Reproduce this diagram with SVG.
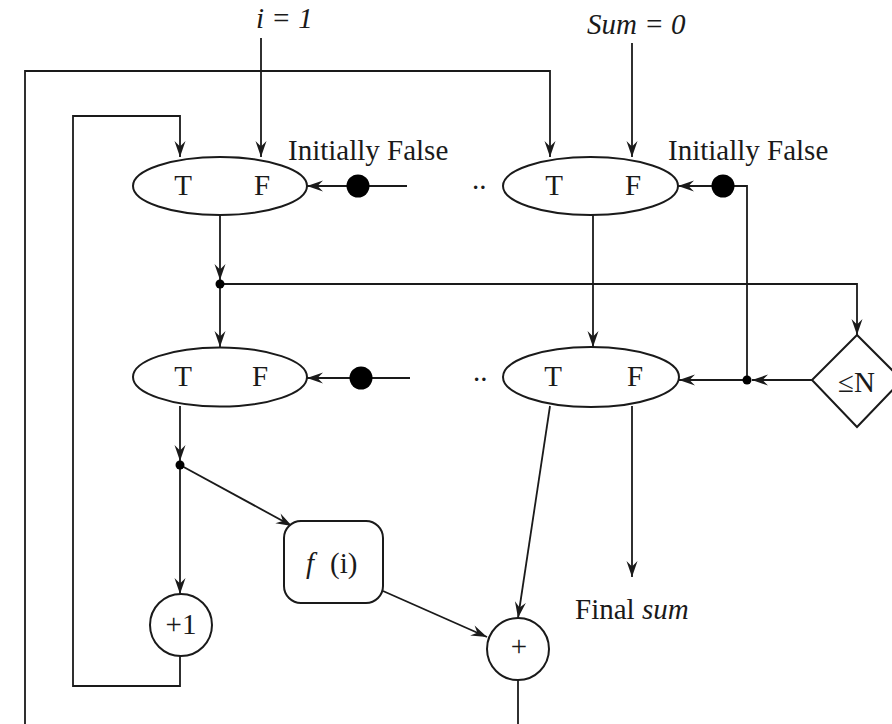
<svg xmlns="http://www.w3.org/2000/svg" width="892" height="724" viewBox="0 0 892 724">
<style>
.ln{fill:none;stroke:#1a1a1a;stroke-width:1.8}
.ar{marker-end:url(#ah)}
.shape{fill:#fff;stroke:#1a1a1a;stroke-width:2}
.t{font-family:"Liberation Serif","Times New Roman",serif;font-size:29px;fill:#1a1a1a}
.c{text-anchor:middle}
.it{font-style:italic}
.dot{fill:#000}
</style>
<defs>
<marker id="ah" markerUnits="userSpaceOnUse" markerWidth="20" markerHeight="14" viewBox="-17 -7 18 14" refX="0" refY="0" orient="auto">
<path d="M0,0 L-16,-5.5 L-10.5,0 L-16,5.5 Z" fill="#1a1a1a"/>
</marker>
</defs>
<rect width="892" height="724" fill="#fff"/>
<g id="connectors">
<path class="ln ar" d="M261,38 V157"/>
<path class="ln ar" d="M632,43 V157"/>
<path class="ln ar" d="M25,724 V71 H550 V157"/>
<path class="ln ar" d="M180,656 V686 H73 V116 H180 V157"/>
<path class="ln ar" d="M407,186 H307"/>
<path class="ln ar" d="M747,381 V186 H678"/>
<path class="ln ar" d="M220,215 V280"/>
<path class="ln ar" d="M220,284 V347"/>
<path class="ln ar" d="M220,284 H857 V335"/>
<path class="ln ar" d="M593,215 V347"/>
<path class="ln ar" d="M410,378 H307"/>
<path class="ln ar" d="M812,380 H752"/>
<path class="ln ar" d="M747,380 H679"/>
<path class="ln ar" d="M180,406 V461"/>
<path class="ln ar" d="M180,465 V594"/>
<path class="ln ar" d="M180,465 L292,526"/>
<path class="ln ar" d="M383,591 L487,637"/>
<path class="ln ar" d="M550,406 L518,618"/>
<path class="ln ar" d="M632,406 V577"/>
<path class="ln" d="M518,680 V724"/>
<circle class="dot" cx="358" cy="186" r="11.5"/>
<circle class="dot" cx="723" cy="186" r="11.5"/>
<circle class="dot" cx="361" cy="378" r="11.5"/>
<circle class="dot" cx="220" cy="284" r="4.5"/>
<circle class="dot" cx="747" cy="380" r="4.5"/>
<circle class="dot" cx="180" cy="465" r="4.5"/>
</g>
<g id="labels">
<text class="t it" x="256" y="28" font-size="26">i = 1</text>
<text class="t it" x="587" y="34">Sum = 0</text>
<text class="t" x="288" y="160">Initially False</text>
<text class="t" x="668" y="160">Initially False</text>
<text class="t" x="472" y="189" font-size="20">..</text>
<text class="t" x="473" y="381" font-size="20">..</text>
<text class="t" x="575" y="619">Final <tspan class="it">sum</tspan></text>
</g>
<g id="merge-i-top">
<ellipse class="shape" cx="220" cy="186" rx="87" ry="29"/>
<text class="t c" x="183" y="195">T</text>
<text class="t c" x="262" y="195">F</text>
</g>
<g id="merge-sum-top">
<ellipse class="shape" cx="590.5" cy="186" rx="87.5" ry="29"/>
<text class="t c" x="554" y="195">T</text>
<text class="t c" x="633" y="195">F</text>
</g>
<g id="switch-i">
<ellipse class="shape" cx="220" cy="377" rx="87" ry="29.5"/>
<text class="t c" x="183" y="386">T</text>
<text class="t c" x="260" y="386">F</text>
</g>
<g id="switch-sum">
<ellipse class="shape" cx="591" cy="377" rx="88" ry="30"/>
<text class="t c" x="553" y="386">T</text>
<text class="t c" x="635" y="386">F</text>
</g>
<g id="compare">
<polygon class="shape" points="857,335 812,380 857,427 902,380"/>
<text class="t" x="838" y="392">≤N</text>
</g>
<g id="func">
<rect class="shape" x="284" y="521" width="99" height="82" rx="17"/>
<text class="t it" x="306" y="573">f</text>
<text class="t" x="330" y="573">(i)</text>
</g>
<g id="inc">
<circle class="shape" cx="181" cy="625" r="31"/>
<text class="t c" x="181" y="634">+1</text>
</g>
<g id="add">
<circle class="shape" cx="518" cy="649" r="31"/>
<text class="t c" x="519" y="656" font-size="20">+</text>
</g>
</svg>
